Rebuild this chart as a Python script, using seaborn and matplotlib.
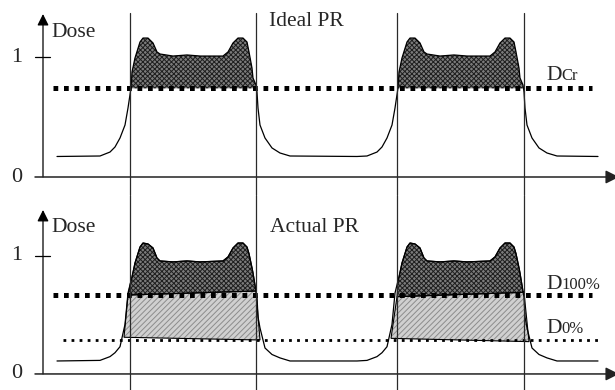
import matplotlib.pyplot as plt
import seaborn as sns

sns.set_theme(style="white")
plt.rcParams["font.family"] = ["Liberation Serif", "DejaVu Serif"]
plt.rcParams["hatch.linewidth"] = 0.7

# position across the wafer (arbitrary units) -- same grid for both panels
pos = [57,
       100, 110, 115, 120, 125, 128, 131, 132, 135, 140, 143, 148, 153, 157, 160, 173, 187, 200,
       223, 228, 233, 238, 243, 247, 249, 252, 253, 256, 257, 258, 260, 265, 272, 280, 290,
       357,
       367, 377, 382, 387, 392, 395, 398, 399, 402, 407, 410, 415, 420, 424, 427, 440, 454, 467,
       490, 495, 500, 505, 510, 514, 516, 519, 520, 523, 524, 525, 527, 532, 539, 547, 557,
       598]

# aerial image dose, ideal photoresist (top)
ideal_dose = [0.171,
              0.175, 0.208, 0.25, 0.325, 0.433, 0.575, 0.742, 0.875, 0.992, 1.125, 1.158, 1.158,
              1.117, 1.042, 1.025, 1.008, 1.017, 1.008, 1.008, 1.042, 1.117, 1.158, 1.158, 1.125,
              1.042, 0.908, 0.825, 0.767, 0.708, 0.575, 0.433, 0.325, 0.242, 0.2, 0.175,
              0.171,
              0.175, 0.208, 0.25, 0.325, 0.433, 0.575, 0.742, 0.875, 0.992, 1.125, 1.158, 1.158,
              1.117, 1.042, 1.025, 1.008, 1.017, 1.008, 1.008, 1.042, 1.117, 1.158, 1.158, 1.125,
              1.042, 0.908, 0.825, 0.767, 0.708, 0.575, 0.433, 0.325, 0.242, 0.2, 0.175,
              0.171]

# dose, actual photoresist (bottom)
actual_dose = [0.11,
               0.115, 0.147, 0.18, 0.231, 0.42, 0.686, 0.79, 0.822, 0.941, 1.076, 1.11, 1.102,
               1.068, 0.983, 0.958, 0.95, 0.958, 0.95, 0.958, 0.992, 1.068, 1.11, 1.11, 1.076,
               1.02, 0.9, 0.856, 0.7, 0.653, 0.483, 0.39, 0.22, 0.165, 0.136, 0.11,
               0.11,
               0.115, 0.147, 0.18, 0.231, 0.42, 0.686, 0.79, 0.822, 0.941, 1.076, 1.11, 1.102,
               1.068, 0.983, 0.958, 0.95, 0.958, 0.95, 0.958, 0.992, 1.068, 1.11, 1.11, 1.076,
               1.02, 0.9, 0.856, 0.7, 0.653, 0.483, 0.39, 0.22, 0.165, 0.136, 0.11,
               0.11]

mask_edges = [130, 256, 397, 524]

d_cr = 0.739
d_100 = 0.669
d_0 = 0.292

# partially exposed band (between D0% and D100%), corners per opening
band_x = [[128, 256, 260, 124], [397, 524, 529, 391]]
band_dose = [[0.669, 0.703, 0.288, 0.311], [0.655, 0.692, 0.274, 0.302]]

dark_fill = dict(facecolor="#7c7c7c", edgecolor="#1e1e1e", hatch="xxxxxxx", linewidth=0)
light_fill = dict(facecolor="#d0d0d0", edgecolor="#8c8c8c", hatch="//////", linewidth=0)
big_dash = dict(color="black", lw=3.6, dashes=(0.95, 1.15), solid_capstyle="butt")
small_dot = dict(color="black", lw=2.0, dashes=(1.0, 1.9), solid_capstyle="butt")

FS = 15.5


def frame(ax, tip, title, top_frac):
    ax.set_xlim(0, 615)
    ax.axis("off")
    for xe in mask_edges:
        ax.axvline(xe, ymin=0, ymax=top_frac, color="#2a2a2a", lw=0.9, zorder=5)
    ax.annotate("", xy=(43, tip), xytext=(43, 0), annotation_clip=False,
                arrowprops=dict(arrowstyle="-|>", color="black", lw=0.9,
                                mutation_scale=17, shrinkA=0, shrinkB=0))
    ax.annotate("", xy=(619, 0), xytext=(35, 0), annotation_clip=False,
                arrowprops=dict(arrowstyle="-|>", color="#222222", lw=1.1,
                                mutation_scale=20, shrinkA=0, shrinkB=0))
    ax.plot([35, 50], [1, 1], color="black", lw=0.9)
    ax.text(17, 1, "1", fontsize=16, ha="center", va="center")
    ax.text(17, 0, "0", fontsize=16, ha="center", va="center")
    ax.text(51, tip - 0.19, "Dose", fontsize=FS, va="baseline")
    ax.text(title[1], title[2], title[0], fontsize=FS, va="baseline")


def level_label(ax, y, sub):
    t = ax.text(546, y, "D", fontsize=FS, va="baseline")
    ax.annotate(sub, xy=(1, y), xycoords=(t, "data"), fontsize=12, va="baseline")


fig = plt.figure(figsize=(6.15, 3.9), dpi=100)
ax_top = fig.add_axes([0, 0.5, 1, 0.5])
ax_bot = fig.add_axes([0, 0, 1, 0.5])

# ---- ideal photoresist ----
ax_top.set_ylim(-0.15, 1.475)
frame(ax_top, 1.358, ("Ideal PR", 269, 1.258), 0.933)
ax_top.fill_between(pos, ideal_dose, d_cr, where=[d > d_cr for d in ideal_dose],
                    interpolate=True, zorder=2, **dark_fill)
ax_top.plot([53, 592], [d_cr, d_cr], zorder=3, **big_dash)
sns.lineplot(x=pos, y=ideal_dose, ax=ax_top, color="black", lw=0.9,
             sort=False, estimator=None, zorder=4)
level_label(ax_top, 0.808, "Cr")

# ---- actual photoresist ----
ax_bot.set_ylim(-0.136, 1.517)
frame(ax_bot, 1.39, ("Actual PR", 270, 1.203), 1.0)
for bx, bd in zip(band_x, band_dose):
    ax_bot.fill(bx, bd, zorder=2, **light_fill)
    ax_bot.fill(bx, bd, fill=False, edgecolor="black", lw=0.8, zorder=3)
    px = [bx[0]] + [x for x in pos if bx[0] < x < bx[1]] + [bx[1]]
    py = [bd[0]] + [d for x, d in zip(pos, actual_dose) if bx[0] < x < bx[1]] + [bd[1]]
    ax_bot.fill(px, py, zorder=2, **dark_fill)
    ax_bot.fill(px, py, fill=False, edgecolor="black", lw=0.8, zorder=3)
ax_bot.plot([53, 592], [d_100, d_100], zorder=3, **big_dash)
ax_bot.plot([63, 600], [d_0, d_0], zorder=3, **small_dot)
sns.lineplot(x=pos, y=actual_dose, ax=ax_bot, color="black", lw=0.9,
             sort=False, estimator=None, zorder=4)
level_label(ax_bot, 0.72, "100%")
level_label(ax_bot, 0.347, "0%")

fig.savefig("out.png", dpi=100, facecolor="white")
